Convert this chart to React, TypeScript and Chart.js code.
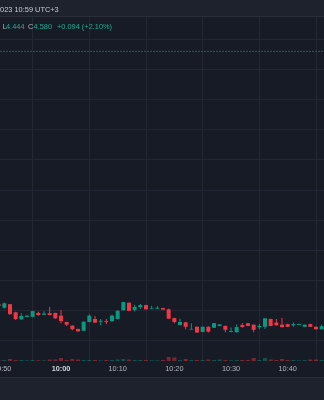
import React, { useEffect, useRef } from "react";
import { Chart, registerables } from "chart.js";

Chart.register(...registerables);

// minutes after 9:50
const MINUTES = [-1, 0, 1, 2, 3, 4, 5, 6, 7, 8, 9, 10, 11, 12, 13, 14, 15, 16, 17, 18, 19, 20, 21, 22, 23, 24, 25, 26, 27, 28, 29, 30, 31, 32, 33, 34, 35, 36, 37, 38, 39, 40, 41, 42, 43, 44, 45, 46, 47, 48, 49, 50, 51, 52, 53, 54, 55, 56];

const OPEN = [4.4962, 4.495, 4.4962, 4.4935, 4.4912, 4.492, 4.492, 4.4933, 4.4927, 4.4932, 4.4933, 4.4924, 4.4903, 4.4891, 4.488, 4.4874, 4.4903, 4.4913, 4.4904, 4.4906, 4.4906, 4.4913, 4.4942, 4.4967, 4.4943, 4.4952, 4.4959, 4.4947, 4.4947, 4.4949, 4.4945, 4.4916, 4.4893, 4.4902, 4.4878, 4.4887, 4.487, 4.4887, 4.4884, 4.489, 4.489, 4.487, 4.4869, 4.4893, 4.4899, 4.4894, 4.4886, 4.4887, 4.4913, 4.4901, 4.4894, 4.4896, 4.4892, 4.4893, 4.4887, 4.4896, 4.4887, 4.4879];

const HIGH = [4.4963, 4.4968, 4.4963, 4.4937, 4.4932, 4.4925, 4.494, 4.4937, 4.4939, 4.4953, 4.4934, 4.4943, 4.4904, 4.4892, 4.4881, 4.4905, 4.4929, 4.4923, 4.4913, 4.4913, 4.4927, 4.4942, 4.497, 4.4968, 4.496, 4.4963, 4.496, 4.4957, 4.4955, 4.495, 4.4948, 4.4917, 4.4914, 4.4903, 4.4899, 4.4889, 4.4889, 4.4889, 4.49, 4.4896, 4.4891, 4.4885, 4.4895, 4.49, 4.49, 4.4895, 4.4897, 4.4916, 4.4914, 4.4913, 4.4916, 4.4897, 4.4901, 4.4897, 4.4895, 4.4897, 4.4889, 4.4894];

const LOW = [4.4955, 4.4948, 4.4927, 4.491, 4.491, 4.4919, 4.4919, 4.4924, 4.4926, 4.4925, 4.4914, 4.4899, 4.489, 4.4876, 4.4871, 4.4873, 4.4902, 4.49, 4.4892, 4.4896, 4.4903, 4.4912, 4.494, 4.4939, 4.4938, 4.4947, 4.4944, 4.4945, 4.4946, 4.4943, 4.4913, 4.4899, 4.4892, 4.4879, 4.4877, 4.4867, 4.4869, 4.4868, 4.4883, 4.4889, 4.4869, 4.4869, 4.4868, 4.4885, 4.4889, 4.4869, 4.4879, 4.488, 4.4889, 4.4891, 4.4885, 4.4886, 4.4887, 4.4892, 4.4886, 4.4886, 4.4878, 4.4878];

const CLOSE = [4.4956, 4.4965, 4.4929, 4.4913, 4.4923, 4.4924, 4.4939, 4.4926, 4.4931, 4.4926, 4.4915, 4.4906, 4.4894, 4.4879, 4.4872, 4.4904, 4.4924, 4.4901, 4.4907, 4.4903, 4.4924, 4.494, 4.4969, 4.494, 4.4953, 4.4959, 4.4945, 4.4949, 4.495, 4.4944, 4.4914, 4.4903, 4.4903, 4.4887, 4.488, 4.4868, 4.4887, 4.4871, 4.4899, 4.4895, 4.4877, 4.4873, 4.4886, 4.4886, 4.489, 4.4877, 4.489, 4.4915, 4.489, 4.4892, 4.4886, 4.4887, 4.4896, 4.4896, 4.4894, 4.4887, 4.4879, 4.4889];

const VOLUME = [10000, 10000, 20000, 10000, 10000, 7000, 10000, 7000, 7000, 15000, 15000, 30000, 10000, 20000, 15000, 10000, 10000, 10000, 7000, 10000, 10000, 15000, 20000, 15000, 10000, 10000, 10000, 7000, 7000, 10000, 40000, 35000, 10000, 20000, 10000, 10000, 10000, 15000, 10000, 15000, 10000, 7000, 10000, 10000, 10000, 30000, 10000, 30000, 15000, 10000, 20000, 10000, 10000, 7000, 10000, 15000, 15000, 10000];

const TIME_TICKS = [0, 10, 20, 30, 40, 50];
const TIME_LABELS = ["9:50", "10:00", "10:10", "10:20", "10:30", "10:40"];
const BOLD_LABEL = "10:00";

const GRID_PRICES = [4.584, 4.574, 4.564, 4.554, 4.544, 4.534, 4.524, 4.514, 4.504, 4.494, 4.484];
const LAST_PRICE = 4.58;
const PRICE_MIN = 4.47737;
const PRICE_MAX = 4.59139;
const VOL_MAX = 3440000;
const X_MIN = -0.764;
const X_MAX = 56.41;

const HEADER_DATE = "2023 10:59 UTC+3";
const LEGEND_LOW = "4.444";
const LEGEND_CLOSE = "4.580";
const LEGEND_CHANGE = "+0.094 (+2.10%)";

const BG = "#171b26";
const PANEL = "#1e222d";
const SEP = "#2a2e39";
const GRID = "#232733";
const TEAL = "#089981";
const RED = "#f23645";
const TEAL_VOL = "rgba(8,153,129,0.45)";
const RED_VOL = "rgba(242,54,69,0.45)";
const FONT = "'Liberation Sans', Arial, sans-serif";

export default function App() {
  const ref = useRef<HTMLCanvasElement>(null);

  useEffect(() => {
    document.body.style.margin = "0";
    document.body.style.background = BG;
    const up = (i: number) => CLOSE[i] >= OPEN[i];

    const bgPlugin = {
      id: "bgPanels",
      beforeDraw(c: any) {
        const ctx = c.ctx;
        const w = c.width;
        const h = c.height;
        ctx.save();
        ctx.fillStyle = BG;
        ctx.fillRect(0, 0, w, h);
        ctx.fillStyle = PANEL;
        ctx.fillRect(0, 0, w, 16);
        ctx.fillRect(0, 378, w, h - 378);
        ctx.fillStyle = SEP;
        ctx.fillRect(0, 16, w, 1);
        ctx.fillRect(0, 377, w, 1);
        ctx.restore();
      },
    };

    const chart = new Chart(ref.current as HTMLCanvasElement, {
      type: "bar",
      data: {
        datasets: [
          {
            type: "line",
            data: [
              { x: X_MIN, y: LAST_PRICE },
              { x: X_MAX, y: LAST_PRICE },
            ],
            borderColor: "#1b6259",
            borderWidth: 1,
            borderDash: [2, 1],
            pointRadius: 0,
            pointHoverRadius: 0,
            yAxisID: "y",
            order: 0,
          } as any,
          {
            type: "bar",
            data: MINUTES.map((m, i) => ({ x: m, y: [OPEN[i], CLOSE[i]] })),
            backgroundColor: MINUTES.map((_, i) => (up(i) ? TEAL : RED)),
            barThickness: 4,
            grouped: false,
            inflateAmount: 0,
            borderWidth: 0,
            yAxisID: "y",
            order: 1,
          } as any,
          {
            type: "bar",
            data: MINUTES.map((m, i) => ({ x: m, y: [LOW[i], HIGH[i]] })),
            backgroundColor: MINUTES.map((_, i) => (up(i) ? TEAL : RED)),
            barThickness: 1,
            grouped: false,
            inflateAmount: 0,
            borderWidth: 0,
            yAxisID: "y",
            order: 2,
          } as any,
          {
            type: "bar",
            data: MINUTES.map((m, i) => ({ x: m, y: VOLUME[i] })),
            backgroundColor: MINUTES.map((_, i) => (up(i) ? TEAL_VOL : RED_VOL)),
            barThickness: 4,
            grouped: false,
            inflateAmount: 0,
            borderWidth: 0,
            yAxisID: "vol",
            order: 3,
          } as any,
        ],
      },
      options: {
        responsive: false,
        animation: false,
        devicePixelRatio: 1,
        layout: { padding: { top: 17, bottom: 22, left: 0, right: 0 }, autoPadding: false } as any,
        plugins: { legend: { display: false }, tooltip: { enabled: false } },
        scales: {
          x: {
            type: "linear",
            min: X_MIN,
            max: X_MAX,
            offset: false,
            grid: { color: GRID, drawTicks: false, lineWidth: 1 },
            border: { display: false },
            afterBuildTicks: (s: any) => {
              s.ticks = TIME_TICKS.map((v) => ({ value: v }));
            },
            afterFit: (s: any) => {
              s.height = 17;
              s.paddingLeft = 0;
              s.paddingRight = 0;
            },
            ticks: {
              padding: 4,
              maxRotation: 0,
              autoSkip: false,
              callback: (_v: any, i: number) => TIME_LABELS[i],
              color: (ctx: any) => (TIME_LABELS[ctx.index] === BOLD_LABEL ? "#d1d4dc" : "#b2b5be"),
              font: (ctx: any) => ({
                family: FONT,
                size: 7.3,
                weight: TIME_LABELS[ctx.index] === BOLD_LABEL ? "bold" : "normal",
              }),
            },
          } as any,
          y: {
            type: "linear",
            position: "right",
            min: PRICE_MIN,
            max: PRICE_MAX,
            grid: { color: GRID, drawTicks: false, lineWidth: 1 },
            border: { display: false },
            ticks: { display: false },
            afterBuildTicks: (s: any) => {
              s.ticks = GRID_PRICES.map((v) => ({ value: v }));
            },
            afterFit: (s: any) => {
              s.width = 0;
              s.paddingTop = 0;
              s.paddingBottom = 0;
            },
          } as any,
          vol: {
            type: "linear",
            display: false,
            min: 0,
            max: VOL_MAX,
          },
        },
      },
      plugins: [bgPlugin],
    });
    return () => chart.destroy();
  }, []);

  const txt: React.CSSProperties = {
    position: "absolute",
    fontFamily: FONT,
    fontSize: "7.4px",
    lineHeight: "9px",
    whiteSpace: "nowrap",
  };

  return (
    <div style={{ position: "relative", width: 324, height: 400, overflow: "hidden", background: BG }}>
      <canvas ref={ref} width={324} height={400} style={{ position: "absolute", left: 0, top: 0, width: 324, height: 400 }} />
      <div style={{ ...txt, left: -4, top: 5, color: "#c9ccd4" }}>{HEADER_DATE}</div>
      <div style={{ ...txt, left: 2.8, top: 21.5, color: "#b2b5be" }}>L</div>
      <div style={{ ...txt, left: 6, top: 21.5, color: "#22ab94" }}>{LEGEND_LOW}</div>
      <div style={{ ...txt, left: 28, top: 21.5, color: "#b2b5be" }}>C</div>
      <div style={{ ...txt, left: 33.6, top: 21.5, color: "#22ab94" }}>{LEGEND_CLOSE}</div>
      <div style={{ ...txt, left: 57, top: 21.5, color: "#22ab94" }}>{LEGEND_CHANGE}</div>
    </div>
  );
}
